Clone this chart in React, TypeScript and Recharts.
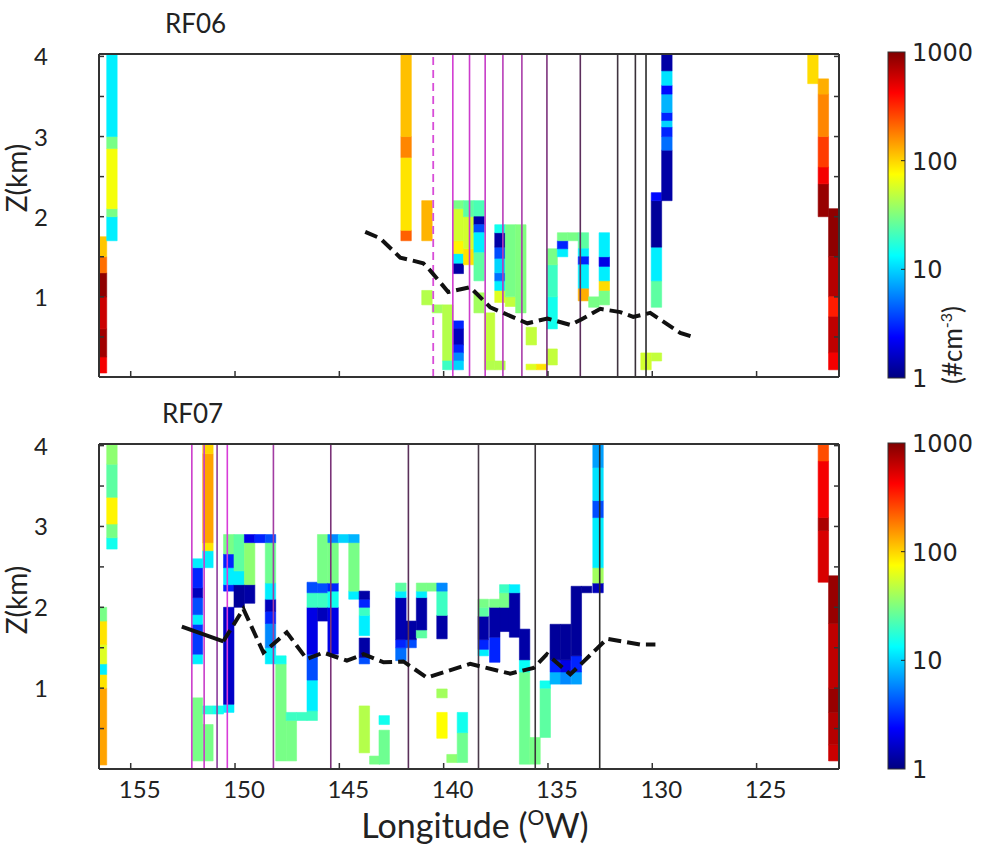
import React from "react";
import {
  ComposedChart,
  XAxis,
  YAxis,
  Line,
  ReferenceArea,
  ReferenceLine,
} from "recharts";

// longitude axis runs east->west (reversed), altitude in km
const X_MIN = 121.05;
const X_MAX = 156.52;
const LON_TICKS = [155, 150, 145, 140, 135, 130, 125];
const Z_TICKS = [0.5, 1, 1.5, 2, 2.5, 3, 3.5, 4];
const CELL_W = 0.5;
const CBAR_TICKS = [1000, 100, 10, 1];

// [longitude centre, z bottom, z top, concentration #/cm3]
const RF06_CELLS: number[][] = [
  [156.4, 0.05, 0.25, 450], [156.4, 0.25, 0.6, 800], [156.4, 0.6, 1.0, 600], [156.4, 1.0, 1.3, 900], [156.4, 1.3, 1.5, 200], [156.4, 1.5, 1.75, 110],
  [155.9, 1.7, 2.0, 12], [155.9, 2.0, 2.1, 30], [155.9, 2.1, 2.85, 70], [155.9, 2.85, 3.0, 30], [155.9, 3.0, 4.03, 12],
  [141.8, 1.7, 1.83, 220], [141.8, 1.83, 2.74, 90], [141.8, 2.74, 3.0, 170], [141.8, 3.0, 4.03, 115],
  [140.8, 1.7, 2.2, 125], [140.8, 0.9, 1.08, 45],
  [140.3, 0.8, 0.9, 40],
  [139.8, 0.2, 0.9, 45], [139.8, 0.09, 0.2, 20],
  [139.3, 1.29, 1.42, 1.3], [139.3, 1.42, 1.54, 12], [139.3, 1.54, 1.7, 80], [139.3, 1.7, 2.1, 55], [139.3, 2.1, 2.2, 30],
  [139.3, 0.6, 0.7, 3], [139.3, 0.4, 0.6, 1.5], [139.3, 0.3, 0.4, 3], [139.3, 0.2, 0.3, 6], [139.3, 0.09, 0.2, 10],
  [138.8, 1.4, 1.6, 90], [138.8, 1.6, 2.0, 55], [138.8, 2.0, 2.2, 25],
  [138.3, 2.0, 2.2, 22], [138.3, 1.9, 2.0, 1.3], [138.3, 1.8, 1.9, 4], [138.3, 1.55, 1.8, 12], [138.3, 1.2, 1.55, 25], [138.3, 0.8, 1.05, 40],
  [137.8, 0.2, 0.8, 50], [137.8, 0.09, 0.2, 45],
  [137.3, 0.93, 1.08, 60], [137.3, 1.08, 1.2, 12], [137.3, 1.2, 1.3, 5], [137.3, 1.3, 1.48, 10], [137.3, 1.48, 1.62, 4],
  [137.3, 1.62, 1.8, 1.3], [137.3, 1.8, 1.9, 15], [137.3, 0.09, 0.2, 45],
  [136.8, 0.88, 1.0, 50], [136.8, 1.0, 1.9, 30],
  [136.3, 0.8, 1.9, 32],
  [135.8, 0.4, 0.62, 50], [135.8, 0.09, 0.16, 60],
  [135.3, 0.09, 0.16, 90],
  [134.8, 0.6, 1.0, 15], [134.8, 1.0, 1.4, 20], [134.8, 1.4, 1.6, 30], [134.8, 0.15, 0.35, 50],
  [134.3, 1.5, 1.6, 12], [134.3, 1.6, 1.7, 3], [134.3, 1.7, 1.8, 30],
  [133.8, 1.7, 1.8, 30],
  [133.3, 1.6, 1.8, 25], [133.3, 1.5, 1.6, 12], [133.3, 1.4, 1.5, 3], [133.3, 1.1, 1.4, 12], [133.3, 0.95, 1.1, 130],
  [132.8, 0.87, 1.0, 30],
  [132.3, 0.9, 1.08, 30], [132.3, 1.08, 1.2, 95], [132.3, 1.2, 1.38, 12], [132.3, 1.38, 1.5, 2], [132.3, 1.5, 1.8, 12],
  [130.3, 0.09, 0.3, 55],
  [129.8, 0.2, 0.3, 50], [129.8, 0.87, 1.2, 25], [129.8, 1.2, 1.62, 12], [129.8, 1.62, 2.2, 1.2], [129.8, 2.2, 2.3, 2.5],
  [129.3, 2.2, 2.83, 1.3], [129.3, 2.83, 3.0, 5], [129.3, 3.0, 3.12, 3], [129.3, 3.12, 3.2, 10], [129.3, 3.2, 3.3, 3],
  [129.3, 3.3, 3.53, 8], [129.3, 3.53, 3.64, 2.5], [129.3, 3.64, 3.82, 11], [129.3, 3.82, 4.03, 1.3],
  [122.3, 3.66, 4.03, 95],
  [121.8, 2.0, 2.41, 850], [121.8, 2.41, 2.62, 450], [121.8, 2.62, 3.0, 280], [121.8, 3.0, 3.53, 170], [121.8, 3.53, 3.72, 130],
  [121.3, 1.5, 2.1, 900], [121.3, 1.0, 1.5, 700], [121.3, 0.75, 1.0, 350], [121.3, 0.3, 0.75, 650], [121.3, 0.09, 0.3, 450],
];

const RF07_CELLS: number[][] = [
  [156.4, 0.05, 1.0, 140], [156.4, 1.0, 1.17, 90], [156.4, 1.17, 1.3, 12], [156.4, 1.3, 1.54, 60], [156.4, 1.54, 1.83, 90], [156.4, 1.83, 2.0, 30],
  [155.9, 2.72, 2.86, 15], [155.9, 2.86, 3.03, 30], [155.9, 3.03, 3.36, 80], [155.9, 3.36, 3.77, 25], [155.9, 3.77, 4.02, 35],
  [151.8, 1.3, 1.42, 12], [151.8, 1.42, 1.79, 3.5], [151.8, 1.79, 1.91, 12], [151.8, 1.91, 2.12, 4], [151.8, 2.12, 2.24, 1.5],
  [151.8, 2.24, 2.49, 3], [151.8, 2.49, 2.6, 12], [151.8, 0.1, 0.88, 30],
  [151.3, 2.49, 2.7, 12], [151.3, 2.7, 2.8, 90], [151.3, 2.8, 3.9, 140], [151.3, 3.9, 4.02, 100], [151.3, 0.1, 0.55, 30], [151.3, 0.68, 0.78, 18],
  [150.8, 0.68, 0.78, 15],
  [150.3, 0.7, 0.8, 12], [150.3, 0.8, 2.0, 1.6], [150.3, 2.2, 2.28, 3], [150.3, 2.28, 2.49, 12], [150.3, 2.49, 2.66, 3], [150.3, 2.66, 2.9, 30],
  [149.8, 2.0, 2.28, 1.2], [149.8, 2.28, 2.45, 12], [149.8, 2.45, 2.9, 25],
  [149.3, 2.05, 2.28, 1.3], [149.3, 2.28, 2.8, 35], [149.3, 2.8, 2.9, 2],
  [148.8, 2.8, 2.9, 3],
  [148.3, 1.3, 1.5, 12], [148.3, 1.5, 1.8, 6], [148.3, 1.8, 1.95, 3], [148.3, 1.95, 2.1, 1.5], [148.3, 2.1, 2.3, 12], [148.3, 2.3, 2.8, 28], [148.3, 2.8, 2.9, 4],
  [147.8, 0.1, 1.3, 30], [147.8, 1.3, 1.4, 15],
  [147.3, 0.1, 0.6, 30], [147.3, 0.6, 0.7, 20],
  [146.8, 0.6, 0.7, 20],
  [146.3, 0.6, 0.72, 20], [146.3, 0.72, 1.1, 12], [146.3, 1.1, 1.42, 4], [146.3, 1.42, 2.0, 2], [146.3, 2.0, 2.18, 20], [146.3, 2.18, 2.31, 4],
  [145.8, 1.83, 2.0, 1.5], [145.8, 2.0, 2.18, 20], [145.8, 2.18, 2.3, 4], [145.8, 2.3, 2.9, 30],
  [145.3, 1.42, 2.0, 2], [145.3, 2.0, 2.2, 15], [145.3, 2.2, 2.3, 3], [145.3, 2.3, 2.8, 30], [145.3, 2.8, 2.9, 6],
  [144.8, 2.8, 2.9, 10],
  [144.3, 2.1, 2.2, 12], [144.3, 2.2, 2.8, 30], [144.3, 2.8, 2.9, 8],
  [143.8, 1.3, 1.38, 4], [143.8, 1.38, 1.62, 1.3], [143.8, 1.65, 1.9, 12], [143.8, 1.9, 2.0, 20], [143.8, 2.0, 2.1, 3], [143.8, 2.1, 2.2, 1.3], [143.8, 0.2, 0.78, 45],
  [143.3, 0.06, 0.16, 30],
  [142.85, 0.06, 0.48, 28], [142.85, 0.55, 0.66, 15],
  [142.05, 1.34, 1.5, 5], [142.05, 1.5, 1.6, 3], [142.05, 1.6, 2.12, 1.4], [142.05, 2.12, 2.2, 12], [142.05, 2.2, 2.3, 25],
  [141.56, 1.5, 1.6, 4], [141.56, 1.6, 1.83, 1.3],
  [141.06, 1.62, 1.72, 25], [141.06, 1.72, 2.12, 1.3], [141.06, 2.12, 2.2, 12], [141.06, 2.2, 2.3, 30],
  [140.57, 2.2, 2.3, 30],
  [140.08, 1.61, 1.9, 1.3], [140.08, 1.9, 2.2, 20], [140.08, 2.2, 2.3, 6], [140.08, 0.88, 0.99, 40], [140.08, 0.38, 0.7, 75],
  [139.6, 0.08, 0.18, 35],
  [139.1, 0.08, 0.45, 28], [139.1, 0.45, 0.7, 15],
  [138.1, 1.4, 1.48, 12], [138.1, 1.48, 1.6, 3], [138.1, 1.6, 1.89, 1.3], [138.1, 1.89, 2.0, 25], [138.1, 2.0, 2.1, 30],
  [137.55, 1.32, 1.63, 3], [137.55, 1.63, 2.0, 1.3], [137.55, 2.0, 2.1, 30],
  [137.07, 1.7, 2.0, 1.3], [137.07, 2.0, 2.18, 30], [137.07, 2.18, 2.28, 20],
  [136.6, 1.63, 2.18, 1.3], [136.6, 2.18, 2.28, 12],
  [136.12, 0.06, 1.2, 28], [136.12, 1.2, 1.35, 14], [136.12, 1.35, 1.73, 1.3],
  [135.62, 0.06, 0.39, 30],
  [135.13, 0.39, 1.0, 25], [135.13, 1.0, 1.09, 15],
  [134.65, 1.05, 1.2, 8], [134.65, 1.2, 1.35, 3], [134.65, 1.35, 1.79, 1.2],
  [134.15, 1.05, 1.2, 6], [134.15, 1.2, 1.35, 2], [134.15, 1.35, 1.79, 1.2],
  [133.64, 1.05, 1.2, 7], [133.64, 1.2, 1.4, 3], [133.64, 1.4, 2.26, 1.2],
  [133.15, 2.18, 2.26, 1.2],
  [132.6, 2.18, 2.3, 1.5], [132.6, 2.3, 2.49, 40], [132.6, 2.49, 3.11, 12], [132.6, 3.11, 3.32, 4], [132.6, 3.32, 3.73, 11], [132.6, 3.73, 4.02, 7],
  [121.8, 2.31, 2.95, 550], [121.8, 2.95, 3.11, 750], [121.8, 3.11, 3.81, 450], [121.8, 3.81, 4.02, 250],
  [121.3, 0.1, 0.3, 600], [121.3, 0.3, 0.7, 700], [121.3, 0.7, 1.0, 850], [121.3, 1.0, 1.8, 650], [121.3, 1.8, 2.39, 850],
];

// boundary-layer top (lon, z)
const RF06_TRACK = [
  [143.76, 1.81], [143.04, 1.73], [142.08, 1.49], [140.98, 1.42], [140.65, 1.33], [139.78, 1.06],
  [138.73, 1.12], [137.77, 0.87], [135.99, 0.67], [135.03, 0.73], [133.93, 0.65], [133.45, 0.71],
  [132.49, 0.85], [131.53, 0.81], [130.91, 0.75], [130.1, 0.8], [128.66, 0.55], [127.94, 0.49],
];
const RF07_TRACK_SOLID = [[152.55, 1.76], [150.56, 1.58]];
const RF07_TRACK = [
  [150.56, 1.58], [149.6, 1.98], [148.64, 1.44], [147.52, 1.69], [146.56, 1.36], [145.76, 1.44],
  [144.64, 1.34], [143.84, 1.42], [142.88, 1.32], [141.93, 1.33], [140.8, 1.13], [138.73, 1.3],
  [136.81, 1.18], [135.69, 1.25], [135.05, 1.42], [133.93, 1.17], [132.17, 1.61], [130.57, 1.54], [129.85, 1.54],
];

// sounding / leg markers
const RF06_LEGS = [139.56, 138.76, 138.01, 137.16, 136.25, 135.05, 133.45, 131.66, 130.81, 130.3];
const RF06_LEG_COLORS = ["#d23cd2", "#cc3ccc", "#c63cc6", "#b83cb8", "#a83ca8", "#7c327c", "#5c2e5c", "#403440", "#383038", "#2a2a2a"];
const RF06_DASHED_LEG = 140.5;
const RF07_LEGS = [152.07, 151.48, 150.86, 150.37, 148.16, 145.41, 141.69, 138.33, 135.61, 132.52];
const RF07_LEG_COLORS = ["#cc3ccc", "#c83cc8", "#8c3c9c", "#d83cd8", "#a23ca2", "#7a3278", "#5a305a", "#4a3a4a", "#3a343a", "#2a2a2a"];

const FONT = "Lato, 'Open Sans', sans-serif";

function jet(n: number) {
  const t = Math.max(0, Math.min(1, Math.log10(n) / 3));
  const c = (v: number) => Math.round(255 * Math.max(0, Math.min(1, v)));
  const r = c(1.5 - Math.abs(4 * t - 3));
  const g = c(1.5 - Math.abs(4 * t - 2));
  const b = c(1.5 - Math.abs(4 * t - 1));
  return `rgb(${r},${g},${b})`;
}

const EmptyTick = () => <g />;

const LonTick = (props: any) => (
  <text x={props.x + 9} y={props.y} dy={15} textAnchor="middle" fontSize={24} fontFamily={FONT} fill="#222">
    {props.payload.value}
  </text>
);

const ZTick = (props: any) =>
  Number.isInteger(props.payload.value) ? (
    <text x={props.x} y={props.y} dy={9} textAnchor="end" fontSize={24} fontFamily={FONT} fill="#222">
      {props.payload.value}
    </text>
  ) : (
    <g />
  );

type PanelProps = {
  cells: number[][];
  tracks: { pts: number[][]; dash?: string }[];
  legs: number[];
  legColors: string[];
  dashedLeg?: number;
  zMax: number;
  height: number;
  bottom: number;
  labels: boolean;
};

function Panel({ cells, tracks, legs, legColors, dashedLeg, zMax, height, bottom, labels }: PanelProps) {
  const frame = { stroke: "#333", strokeWidth: 2 };
  const tl = { stroke: "#333", strokeWidth: 1.5 };
  return (
    <ComposedChart width={982} height={height} margin={{ top: 53, right: 142, bottom, left: 39 }}>
      <XAxis
        type="number"
        dataKey="lon"
        domain={[X_MIN, X_MAX]}
        reversed
        allowDataOverflow
        ticks={LON_TICKS}
        interval={0}
        height={31}
        tickSize={-6}
        tickMargin={20}
        axisLine={frame}
        tickLine={tl}
        tick={labels ? LonTick : EmptyTick}
      />
      <XAxis
        xAxisId="top"
        orientation="top"
        type="number"
        domain={[X_MIN, X_MAX]}
        reversed
        allowDataOverflow
        ticks={LON_TICKS}
        interval={0}
        height={1}
        tickSize={-6}
        axisLine={frame}
        tickLine={tl}
        tick={EmptyTick}
      />
      <YAxis
        type="number"
        domain={[0, zMax]}
        allowDataOverflow
        ticks={Z_TICKS}
        interval={0}
        width={60}
        tickSize={-5}
        tickMargin={56}
        axisLine={frame}
        tickLine={tl}
        tick={ZTick}
      />
      <YAxis
        yAxisId="r"
        orientation="right"
        type="number"
        domain={[0, zMax]}
        allowDataOverflow
        ticks={Z_TICKS}
        interval={0}
        width={1}
        tickSize={-5}
        axisLine={frame}
        tickLine={tl}
        tick={EmptyTick}
      />
      {cells.map(([lon, z0, z1, n], i) => (
        <ReferenceArea
          key={`c${i}`}
          x1={Math.min(lon + CELL_W / 2, X_MAX)}
          x2={Math.max(lon - CELL_W / 2, X_MIN)}
          y1={z0}
          y2={z1}
          fill={jet(n)}
          fillOpacity={1}
          stroke={jet(n)}
          strokeWidth={0.6}
          ifOverflow="visible"
        />
      ))}
      {dashedLeg !== undefined && (
        <ReferenceLine x={dashedLeg} stroke="#d84cd8" strokeWidth={1.8} strokeDasharray="8 5" />
      )}
      {legs.map((lon, i) => (
        <ReferenceLine key={`l${i}`} x={lon} stroke={legColors[i]} strokeWidth={1.6} />
      ))}
      {tracks.map((t, i) => (
        <Line
          key={`t${i}`}
          data={t.pts.map(([lon, z]) => ({ lon, z }))}
          dataKey="z"
          stroke="#111"
          strokeWidth={4}
          strokeDasharray={t.dash}
          dot={false}
          isAnimationActive={false}
        />
      ))}
    </ComposedChart>
  );
}

function ColorBar({ top, height }: { top: number; height: number }) {
  const left = 888;
  const w = 17;
  const id = `jet${top}`;
  return (
    <g>
      <defs>
        <linearGradient id={id} x1="0" y1="1" x2="0" y2="0">
          <stop offset="0" stopColor="#000080" />
          <stop offset="0.125" stopColor="#0000ff" />
          <stop offset="0.375" stopColor="#00ffff" />
          <stop offset="0.625" stopColor="#ffff00" />
          <stop offset="0.875" stopColor="#ff0000" />
          <stop offset="1" stopColor="#800000" />
        </linearGradient>
      </defs>
      <rect x={left} y={top} width={w} height={height} fill={`url(#${id})`} stroke="#333" strokeWidth={1} />
      {CBAR_TICKS.map((v, i) => {
        const y = top + (i * height) / 3;
        return (
          <g key={v}>
            {i > 0 && i < 3 && <line x1={left + w - 4} x2={left + w} y1={y} y2={y} stroke="#222" />}
            <text x={912} y={y + 9} fontSize={24} fontFamily="'DejaVu Sans', sans-serif" fill="#222">
              {v}
            </text>
          </g>
        );
      })}
    </g>
  );
}

export default function App() {
  return (
    <div style={{ position: "absolute", left: 0, top: 0, width: 982, height: 849, background: "#fff" }}>
      <div style={{ position: "absolute", left: 0, top: 0 }}>
        <Panel
          cells={RF06_CELLS}
          tracks={[{ pts: RF06_TRACK, dash: "13 6" }]}
          legs={RF06_LEGS}
          legColors={RF06_LEG_COLORS}
          dashedLeg={RF06_DASHED_LEG}
          zMax={4.03}
          height={420}
          bottom={12}
          labels={false}
        />
      </div>
      <div style={{ position: "absolute", left: 0, top: 390 }}>
        <Panel
          cells={RF07_CELLS}
          tracks={[{ pts: RF07_TRACK_SOLID }, { pts: RF07_TRACK, dash: "13 6" }]}
          legs={RF07_LEGS}
          legColors={RF07_LEG_COLORS}
          zMax={4.02}
          height={460}
          bottom={50}
          labels={true}
        />
      </div>
      <svg width={982} height={849} style={{ position: "absolute", left: 0, top: 0, pointerEvents: "none" }}>
        <text x={165} y={33} fontSize={26} fontFamily={FONT} fill="#222">RF06</text>
        <text x={162} y={423} fontSize={26} fontFamily={FONT} fill="#222">RF07</text>
        <text transform="translate(27,178) rotate(-90)" textAnchor="middle" fontSize={28} fontFamily={FONT} fill="#222">Z(km)</text>
        <text transform="translate(27,600) rotate(-90)" textAnchor="middle" fontSize={28} fontFamily={FONT} fill="#222">Z(km)</text>
        <text x={475} y={838} textAnchor="middle" fontSize={34} fontFamily={FONT} fill="#222">
          Longitude (<tspan fontSize={21} dy={-13}>O</tspan><tspan dy={13}>W)</tspan>
        </text>
        <text transform="translate(962,345) rotate(-90)" textAnchor="middle" fontSize={26} fontFamily={FONT} fill="#222">
          (#cm<tspan fontSize={16} dy={-10}>-3</tspan><tspan dy={10}>)</tspan>
        </text>
        <ColorBar top={52} height={326} />
        <ColorBar top={443} height={326} />
      </svg>
    </div>
  );
}
